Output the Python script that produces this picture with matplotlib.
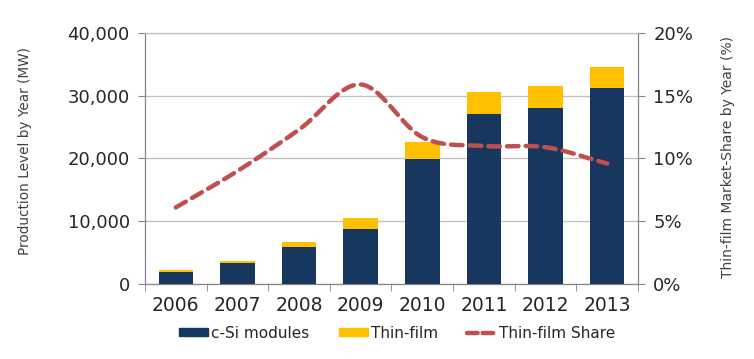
import numpy as np
import matplotlib
matplotlib.use("Agg")
import matplotlib.pyplot as plt
from matplotlib.lines import Line2D
from matplotlib.patches import Patch
from matplotlib.ticker import FuncFormatter

years = ["2006", "2007", "2008", "2009", "2010", "2011", "2012", "2013"]
csi = [1950, 3300, 5850, 8700, 19870, 27140, 28050, 31290]
thin = [250, 380, 850, 1750, 2700, 3460, 3450, 3290]
share = [6.1, 9.0, 12.3, 15.9, 11.7, 11.0, 10.9, 9.6]

navy = "#17375E"
gold = "#FFC000"
red = "#C0504D"
grid_c = "#BFBFBF"
spine_c = "#868686"
txt = "#262626"

fig = plt.figure(figsize=(7.54, 3.59), dpi=100)
ax = fig.add_axes([0.1923, 0.209, 0.6538, 0.699])
x = np.arange(len(years))
w = 0.56
ax.bar(x, csi, w, color=navy, zorder=3)
ax.bar(x, thin, w, bottom=csi, color=gold, zorder=3)
ax.set_xlim(-0.5, len(years) - 0.5)
ax.set_ylim(0, 40000)
ax.set_yticks(np.arange(0, 40001, 10000))
ax.yaxis.set_major_formatter(FuncFormatter(lambda v, p: f"{int(v):,}"))
ax.yaxis.grid(True, color=grid_c, lw=0.9, zorder=0)
ax.set_xticks(x)
ax.set_xticklabels(years)
ax.set_xticks(np.arange(-0.5, len(years)), minor=True)
ax.tick_params(axis="x", which="major", length=0, pad=9, labelsize=13.5, labelcolor=txt)
ax.tick_params(axis="x", which="minor", length=5, color=spine_c)
ax.tick_params(axis="y", length=5, color=spine_c, labelsize=13, labelcolor=txt, pad=6)
for s in ax.spines.values():
    s.set_color(spine_c)
    s.set_linewidth(0.9)
ax.spines["top"].set_color(grid_c)
ax.set_ylabel("Production Level by Year (MW)", fontsize=9.8, color="#404040")
ax.yaxis.set_label_coords(-0.23, 0.528)

ax2 = ax.twinx()
ax2.set_ylim(0, 20)
ax2.set_yticks(np.arange(0, 21, 5))
ax2.yaxis.set_major_formatter(FuncFormatter(lambda v, p: f"{int(v)}%"))
ax2.tick_params(axis="y", length=5, color=spine_c, labelsize=13, labelcolor=txt, pad=6)
for s in ax2.spines.values():
    s.set_visible(False)
ax2.set_ylabel("Thin-film Market-Share by Year (%)", fontsize=10, color="#404040")
ax2.yaxis.set_label_coords(1.168, 0.504)

# smoothed rendering of the share line (Catmull-Rom through data points)
px = x.astype(float)
py = np.array(share, dtype=float)
P = np.column_stack([px, py])
P_ext = np.vstack([2 * P[0] - P[1], P, 2 * P[-1] - P[-2]])
curve = []
for i in range(1, len(P_ext) - 2):
    p0, p1, p2, p3 = P_ext[i - 1], P_ext[i], P_ext[i + 1], P_ext[i + 2]
    t = np.linspace(0, 1, 30)[:, None]
    seg = 0.5 * ((2 * p1) + (-p0 + p2) * t + (2 * p0 - 5 * p1 + 4 * p2 - p3) * t ** 2
                 + (-p0 + 3 * p1 - 3 * p2 + p3) * t ** 3)
    curve.append(seg if i == len(P_ext) - 3 else seg[:-1])
curve = np.vstack(curve)
ax2.plot(curve[:, 0], curve[:, 1], color=red, lw=3.2, ls=(0, (2.6, 1.6)),
         solid_capstyle="round", dash_capstyle="round", zorder=5)

handles = [Patch(color=navy), Patch(color=gold),
           Line2D([0], [0], color=red, lw=3.2, ls=(0, (2.4, 1.1)), dash_capstyle="round")]
labels = ["c-Si modules", "Thin-film", "Thin-film Share"]
fig.legend(handles, labels, loc="center", bbox_to_anchor=(0.527, 0.072), ncol=3,
           frameon=False, fontsize=11, handlelength=1.9, handleheight=0.4,
           handletextpad=0.2, columnspacing=1.9, labelcolor=txt)

fig.savefig("out.png", dpi=100)
